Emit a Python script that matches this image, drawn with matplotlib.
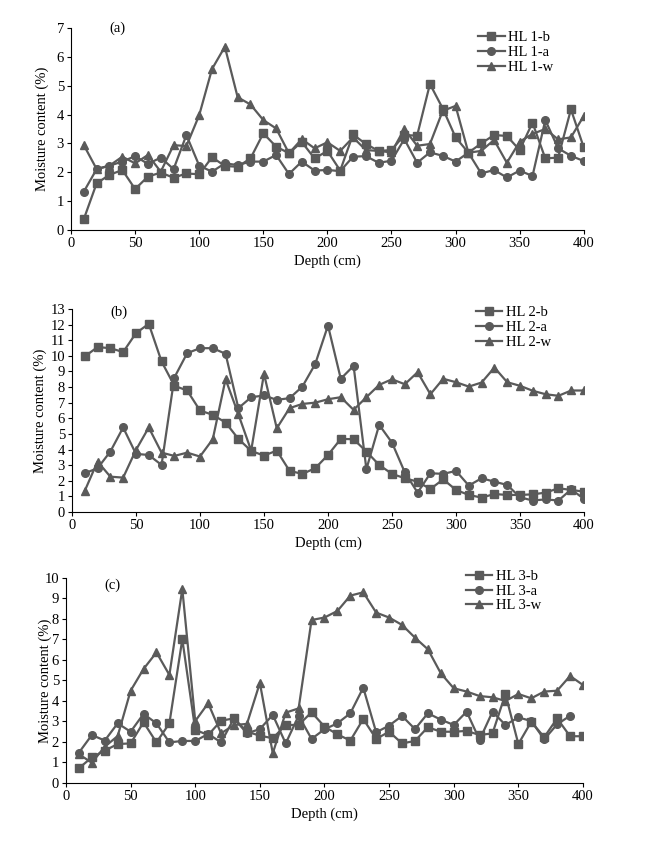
import numpy as np
import matplotlib
matplotlib.use("Agg")
import matplotlib.pyplot as plt

plt.rcParams['font.family'] = ['Liberation Serif', 'DejaVu Serif']

# depth of each sample (cm)
depth = [10, 20, 30, 40, 50, 60, 70, 80, 90, 100,
         110, 120, 130, 140, 150, 160, 170, 180, 190, 200,
         210, 220, 230, 240, 250, 260, 270, 280, 290, 300,
         310, 320, 330, 340, 350, 360, 370, 380, 390, 400]

# panel (a)
hl1_b = [0.38, 1.62, 1.91, 2.08, 1.42, 1.85, 1.99, 1.81, 1.96, 1.93,
         2.52, 2.22, 2.19, 2.48, 3.35, 2.89, 2.66, 3.05, 2.48, 2.74,
         2.06, 3.31, 2.98, 2.74, 2.77, 3.29, 3.27, 5.06, 4.21, 3.21,
         2.68, 3.00, 3.29, 3.26, 2.77, 3.72, 2.48, 2.51, 4.18, 2.86]
hl1_a = [1.33, 2.11, 2.23, 2.37, 2.56, 2.29, 2.51, 2.11, 3.29, 2.23,
         2.02, 2.31, 2.25, 2.37, 2.37, 2.60, 1.94, 2.37, 2.06, 2.08,
         2.04, 2.54, 2.56, 2.33, 2.40, 3.15, 2.33, 2.69, 2.57, 2.37,
         2.68, 1.96, 2.08, 1.82, 2.06, 1.87, 3.81, 2.83, 2.57, 2.39]
hl1_w = [2.94, 2.11, 2.23, 2.54, 2.31, 2.60, 2.02, 2.94, 2.91, 3.98,
         5.58, 6.35, 4.60, 4.35, 3.81, 3.52, 2.66, 3.15, 2.83, 3.04,
         2.74, 3.21, 2.77, 2.74, 2.69, 3.50, 2.92, 2.98, 4.13, 4.30,
         2.68, 2.74, 3.12, 2.33, 3.06, 3.33, 3.50, 3.14, 3.21, 3.95]

# panel (b)
hl2_b = [9.96, 10.56, 10.49, 10.24, 11.45, 12.05, 9.64, 8.08, 7.78, 6.50,
         6.22, 5.73, 4.68, 3.91, 3.61, 3.93, 2.63, 2.44, 2.80, 3.65,
         4.68, 4.66, 3.87, 3.01, 2.44, 2.16, 1.94, 1.47, 2.09, 1.41,
         1.09, 0.92, 1.15, 1.09, 1.09, 1.13, 1.24, 1.52, 1.41, 1.30]
hl2_a = [2.48, 2.80, 3.87, 5.41, 3.72, 3.65, 3.01, 8.61, 10.17, 10.49,
         10.49, 10.13, 6.65, 7.35, 7.46, 7.18, 7.29, 8.03, 9.47, 11.94,
         8.53, 9.36, 2.74, 5.58, 4.44, 2.54, 1.24, 2.48, 2.44, 2.63,
         1.69, 2.16, 1.94, 1.73, 0.94, 0.73, 0.81, 0.73, 1.45, 0.83]
hl2_w = [1.35, 3.23, 2.26, 2.20, 3.97, 5.41, 3.80, 3.59, 3.80, 3.55,
         4.66, 8.50, 6.26, 3.93, 8.85, 5.36, 6.65, 6.92, 7.00, 7.22,
         7.35, 6.54, 7.35, 8.14, 8.50, 8.18, 8.95, 7.54, 8.53, 8.31,
         8.03, 8.29, 9.25, 8.31, 8.08, 7.76, 7.54, 7.44, 7.78, 7.78]

# panel (c) - HL 3-a stops at 390 cm
hl3_b = [0.72, 1.25, 1.58, 1.90, 1.93, 2.96, 1.98, 2.91, 7.01, 2.59,
         2.34, 3.04, 3.15, 2.50, 2.31, 2.18, 2.83, 2.83, 3.45, 2.75,
         2.37, 2.07, 3.12, 2.15, 2.50, 1.93, 2.05, 2.72, 2.50, 2.50,
         2.54, 2.34, 2.42, 4.34, 1.90, 2.99, 2.23, 3.15, 2.28, 2.28]
hl3_a = [1.48, 2.34, 2.07, 2.91, 2.50, 3.37, 2.91, 1.98, 2.05, 2.05,
         2.39, 1.98, 3.15, 2.42, 2.63, 3.32, 1.93, 3.28, 2.15, 2.62,
         2.91, 3.40, 4.65, 2.47, 2.80, 3.27, 2.63, 3.40, 3.09, 2.83,
         3.48, 2.10, 3.48, 2.83, 3.20, 3.02, 2.13, 2.86, 3.28]
hl3_w = [1.40, 0.99, 1.77, 2.29, 4.50, 5.56, 6.37, 5.27, 9.46, 3.02,
         3.89, 2.42, 2.83, 2.88, 4.88, 1.45, 3.43, 3.64, 7.95, 8.07,
         8.39, 9.14, 9.30, 8.31, 8.07, 7.71, 7.09, 6.52, 5.35, 4.62,
         4.46, 4.24, 4.18, 4.00, 4.34, 4.13, 4.46, 4.50, 5.22, 4.78]

col = '#5a5a5a'
fs = 10.5


def draw_panel(ax, series, names, ymax, tag, tag_y, leg_pos, ylab_x):
    markers = ['s', 'o', '^']
    for vals, name, m in zip(series, names, markers):
        ax.plot(depth[:len(vals)], vals, color=col, lw=1.6, marker=m,
                ms=5.5, label=name)
    ax.set_xlim(0, 400)
    ax.set_ylim(0, ymax)
    ax.set_xticks(np.arange(0, 401, 50))
    ax.set_yticks(np.arange(0, ymax + 1, 1))
    ax.spines['top'].set_visible(False)
    ax.spines['right'].set_visible(False)
    ax.tick_params(direction='out', length=3, labelsize=fs, pad=2)
    ax.set_xlabel('Depth (cm)', fontsize=fs, labelpad=3)
    ax.set_ylabel('Moisture content (%)', fontsize=fs)
    ax.yaxis.set_label_coords(ylab_x, 0.5)
    ax.text(0.075, tag_y, tag, transform=ax.transAxes, fontsize=fs,
            va='center', ha='left')
    ax.legend(loc='upper left', bbox_to_anchor=leg_pos, frameon=False,
              fontsize=fs, handlelength=1.8, handletextpad=0.25,
              labelspacing=0.1, borderpad=0)


fig = plt.figure(figsize=(6.54, 8.44), dpi=100)
ax_a = fig.add_axes([0.1086, 0.7275, 0.784, 0.2393])
ax_b = fig.add_axes([0.110, 0.3934, 0.783, 0.2405])
ax_c = fig.add_axes([0.1009, 0.0723, 0.7905, 0.2429])

draw_panel(ax_a, [hl1_b, hl1_a, hl1_w], ['HL 1-b', 'HL 1-a', 'HL 1-w'],
           7, '(a)', 1.0, (0.78, 1.02), -0.043)
draw_panel(ax_b, [hl2_b, hl2_a, hl2_w], ['HL 2-b', 'HL 2-a', 'HL 2-w'],
           13, '(b)', 0.985, (0.775, 1.05), -0.049)
draw_panel(ax_c, [hl3_b, hl3_a, hl3_w], ['HL 3-b', 'HL 3-a', 'HL 3-w'],
           10, '(c)', 0.965, (0.76, 1.075), -0.027)

fig.savefig('out.png', dpi=100)
